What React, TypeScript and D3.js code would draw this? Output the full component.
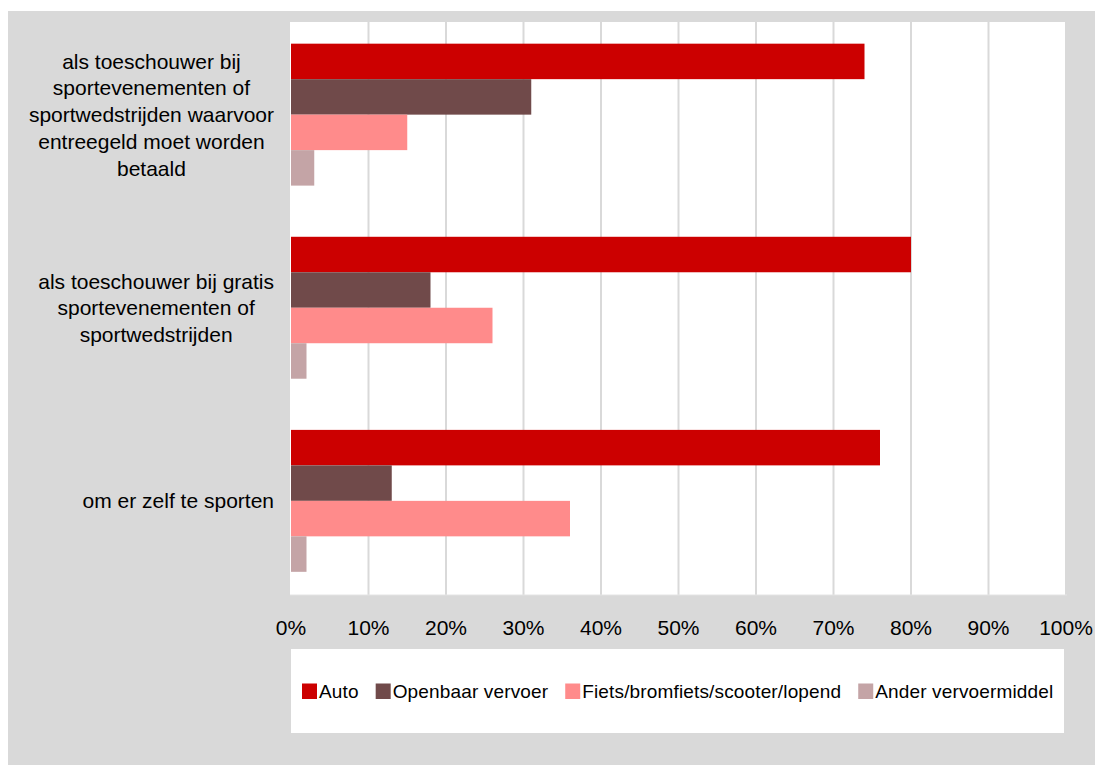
import React from "react";
import * as d3 from "d3";

const categoryLines: string[][] = [
  ["als toeschouwer bij", "sportevenementen of", "sportwedstrijden waarvoor", "entreegeld moet worden", "betaald"],
  ["als toeschouwer bij gratis", "sportevenementen of", "sportwedstrijden"],
  ["om er zelf te sporten"],
];
const categories = categoryLines.map((l) => l.join(" "));

const seriesNames = ["Auto", "Openbaar vervoer", "Fiets/bromfiets/scooter/lopend", "Ander vervoermiddel"];
const seriesColors = ["#CC0000", "#704A4A", "#FF8B8B", "#C4A4A6"];

const autoValues = [74, 80, 76];
const ovValues = [31, 18, 13];
const fietsValues = [15, 26, 36];
const anderValues = [3, 2, 2];
const seriesValues = [autoValues, ovValues, fietsValues, anderValues];

const tickValues = [0, 10, 20, 30, 40, 50, 60, 70, 80, 90, 100];
const tickLabels = tickValues.map((t) => `${t}%`);

const FONT = "'Liberation Sans', Arial, sans-serif";

let ctx: CanvasRenderingContext2D | null = null;
function measure(text: string, size: number, ls = 0): number {
  if (!ctx) ctx = document.createElement("canvas").getContext("2d");
  if (!ctx) return text.length * size * 0.5;
  ctx.font = `${size}px ${FONT}`;
  return ctx.measureText(text).width + ls * text.length;
}

export default function App() {
  const W = 1103;
  const H = 767;
  const plot = { left: 290, right: 1067, top: 22, bottom: 595 };

  const x = d3.scaleLinear().domain([0, 100]).range([291, 1066]);
  const y = d3
    .scaleBand<string>()
    .domain(categories)
    .range([plot.top - 1.5, plot.bottom])
    .paddingInner(0.265)
    .paddingOuter(0.12);
  const ySub = d3
    .scaleBand<string>()
    .domain(seriesNames)
    .range([0, y.bandwidth()]);

  const catFont = 21;
  const lineH = 26.7;
  const labelRight = 274;

  // legend layout
  const legFont = 19;
  const legLs = 0.15;
  const sq = 15;
  let cursor = 302;
  const legendItems = seriesNames.map((name, i) => {
    const item = { name, color: seriesColors[i], x: cursor };
    cursor += sq + 2 + measure(name, legFont, legLs) + 17;
    return item;
  });

  return (
    <svg
      width={W}
      height={H}
      style={{ position: "absolute", left: 0, top: 0, display: "block" }}
      fontFamily={FONT}
    >
      <rect x={0} y={0} width={W} height={H} fill="#ffffff" />
      <rect x={8} y={11} width={1087} height={754} fill="#D9D9D9" />
      <rect
        x={plot.left}
        y={plot.top}
        width={plot.right - plot.left}
        height={plot.bottom - plot.top}
        fill="#ffffff"
      />
      {tickValues.slice(1).map((t) => (
        <line
          key={`g${t}`}
          x1={x(t)}
          x2={x(t)}
          y1={plot.top}
          y2={plot.bottom}
          stroke="#D9D9D9"
          strokeWidth={2}
        />
      ))}
      <line x1={plot.left} x2={plot.right} y1={plot.bottom} y2={plot.bottom} stroke="#E4E4E4" strokeWidth={1} />

      {categories.map((c, ci) =>
        seriesNames.map((s, si) => (
          <rect
            key={`${ci}-${si}`}
            x={x(0)}
            y={(y(c) as number) + (ySub(s) as number)}
            width={x(seriesValues[si][ci]) - x(0)}
            height={ySub.bandwidth()}
            fill={seriesColors[si]}
          />
        ))
      )}

      {tickValues.map((t, i) => (
        <text
          key={`t${t}`}
          x={x(t)}
          y={635}
          textAnchor="middle"
          fontSize={21}
          fill="#000"
        >
          {tickLabels[i]}
        </text>
      ))}

      {categoryLines.map((lines, ci) => {
        const maxW = Math.max(...lines.map((l) => measure(l, catFont)));
        const cx = labelRight - maxW / 2;
        const cy = (y(categories[ci]) as number) + y.bandwidth() / 2;
        const startY = cy - ((lines.length - 1) * lineH) / 2 + 7.5;
        return (
          <text key={`c${ci}`} textAnchor="middle" fontSize={catFont} fill="#000">
            {lines.map((l, li) => (
              <tspan key={li} x={cx} y={startY + li * lineH}>
                {l}
              </tspan>
            ))}
          </text>
        );
      })}

      <rect x={291} y={649} width={773} height={84} fill="#ffffff" />
      {legendItems.map((it) => (
        <g key={it.name}>
          <rect x={it.x} y={683.5} width={sq} height={15.5} fill={it.color} />
          <text x={it.x + sq + 2} y={697.5} fontSize={legFont} letterSpacing={legLs} fill="#000">
            {it.name}
          </text>
        </g>
      ))}
    </svg>
  );
}
